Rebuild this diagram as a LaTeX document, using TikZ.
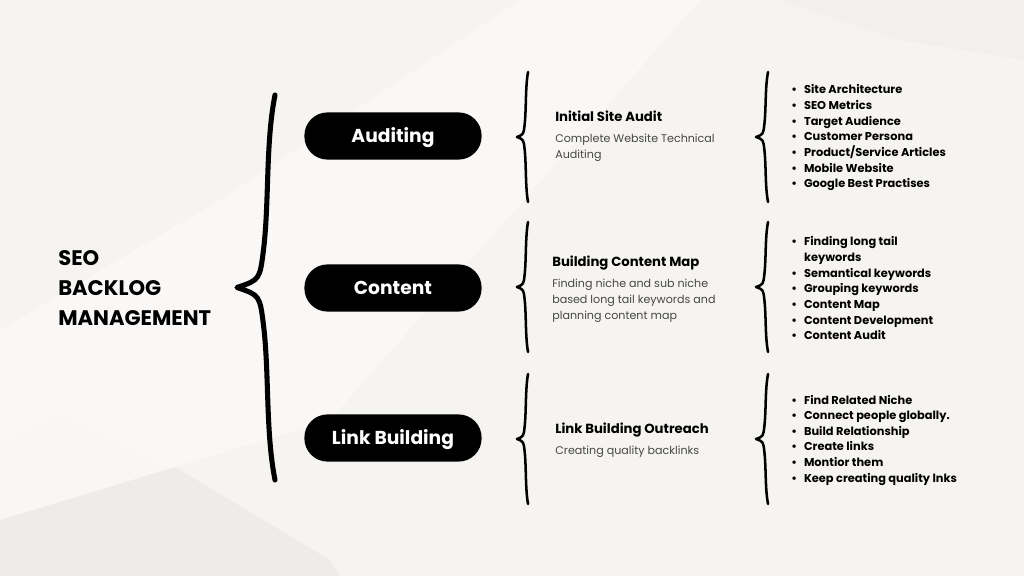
\documentclass[tikz,border=0pt]{standalone}
\usepackage{fontspec}
\setmainfont{Poppins}
\usetikzlibrary{positioning}

\definecolor{paper}{RGB}{246,244,241}
\definecolor{paperdark}{RGB}{236,234,230}
\definecolor{paperlight}{RGB}{251,250,248}
\definecolor{descgray}{RGB}{70,70,70}

% curly brace: x, top, bottom, width, line width
\newcommand{\curly}[5]{%
  \pgfmathsetmacro{\ym}{(#2+#3)/2}%
  \pgfmathsetmacro{\hh}{(#3-#2)/2}%
  \draw[line width=#5, line cap=round, line join=round]
    (#1,#2) .. controls ({#1-0.25*#4},{#2+0.25*\hh}) and ({#1-0.15*#4},{\ym-0.45*\hh}) .. ({#1-0.3*#4},{\ym-0.2*\hh})
    .. controls ({#1-0.4*#4},{\ym-0.04*\hh}) .. ({#1-#4},\ym)
    .. controls ({#1-0.4*#4},{\ym+0.04*\hh}) .. ({#1-0.3*#4},{\ym+0.2*\hh})
    .. controls ({#1-0.15*#4},{\ym+0.45*\hh}) and ({#1-0.25*#4},{#3-0.25*\hh}) .. (#1,#3);}

\begin{document}
\begin{tikzpicture}[x=0.025cm, y=-0.025cm,
    pill/.style={fill=black, text=white, rounded corners=0.58cm, minimum width=4.43cm, minimum height=1.18cm, text height=9.3pt, text depth=0pt, font=\fontsize{13.3}{16}\selectfont\bfseries},
    title/.style={anchor=base west, inner sep=0, font=\fontsize{15}{21.3}\selectfont\bfseries},
    head/.style={anchor=base west, inner sep=0, font=\fontsize{9.4}{11}\selectfont\bfseries},
    desc/.style={anchor=base west, inner sep=0, text=descgray, font=\fontsize{7.9}{11.4}\selectfont},
    items/.style={anchor=base west, inner sep=0, font=\fontsize{8.1}{11.1}\selectfont\bfseries}]
  % background
  \fill[paper] (0,0) rectangle (1024,576);
  \useasboundingbox (0,0) rectangle (1024,576);
  \fill[paperdark, opacity=0.7] (0,440) -- (60,415) -- (180,470) -- (330,560) -- (340,576) -- (0,576) -- cycle;
  \fill[paperlight, opacity=0.8] (0,330) -- (220,200) -- (520,0) -- (700,0) -- (330,420) -- (0,520) -- cycle;
  \fill[paperdark, opacity=0.4] (780,0) -- (1024,0) -- (1024,60) -- (900,40) -- cycle;

  % title
  \node[title] (seo) at (58,266) {\begin{tabular}[t]{@{}l@{}}SEO\\BACKLOG\\MANAGEMENT\end{tabular}};

  % big brace and pills
  \curly{275}{95}{480}{38}{3.6pt}
  \foreach \name/\label/\y in {audit/Auditing/136, content/Content/288, link/Link Building/438}
    \node[pill] (\name) at (393,\y) {\label};

  % small braces
  \foreach \top in {72, 222, 374} {
    \curly{528}{\top}{\top+130}{11}{1.8pt}
    \curly{768}{\top}{\top+130}{12}{1.8pt}
  }

  % row 1
  \node[head] (auditHead) at (555,122) {Initial Site Audit};
  \node[desc] (auditDesc) at (555,142.5) {\begin{tabular}[t]{@{}l@{}}Complete Website Technical\\Auditing\end{tabular}};
  \node[items] (auditList) at (791,94) {\begin{tabular}[t]{@{}l@{\hspace{5pt}}l@{}}
    \textbullet & Site Architecture\\
    \textbullet & SEO Metrics\\
    \textbullet & Target Audience\\
    \textbullet & Customer Persona\\
    \textbullet & Product/Service Articles\\
    \textbullet & Mobile Website\\
    \textbullet & Google Best Practises\end{tabular}};

  % row 2
  \node[head] (contentHead) at (552,267) {Building Content Map};
  \node[desc] (contentDesc) at (552,287.5) {\begin{tabular}[t]{@{}l@{}}Finding niche and sub niche\\based long tail keywords and\\planning content map\end{tabular}};
  \node[items] (contentList) at (791,246) {\begin{tabular}[t]{@{}l@{\hspace{5pt}}l@{}}
    \textbullet & Finding long tail\\
     & keywords\\
    \textbullet & Semantical keywords\\
    \textbullet & Grouping keywords\\
    \textbullet & Content Map\\
    \textbullet & Content Development\\
    \textbullet & Content Audit\end{tabular}};

  % row 3
  \node[head] (linkHead) at (555,433) {Link Building Outreach};
  \node[desc] (linkDesc) at (555,454.5) {Creating quality backlinks};
  \node[items] (linkList) at (791,404) {\begin{tabular}[t]{@{}l@{\hspace{5pt}}l@{}}
    \textbullet & Find Related Niche\\
    \textbullet & Connect people globally.\\
    \textbullet & Build Relationship\\
    \textbullet & Create links\\
    \textbullet & Montior them\\
    \textbullet & Keep creating quality lnks\end{tabular}};
\end{tikzpicture}
\end{document}
